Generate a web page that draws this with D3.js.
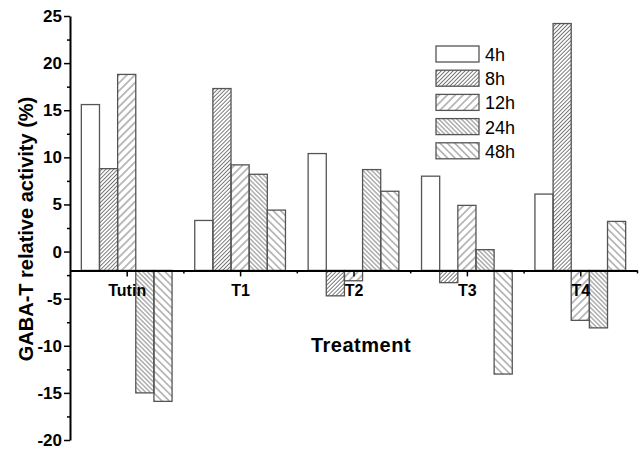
<!DOCTYPE html>
<html>
<head>
<meta charset="utf-8">
<script src="https://cdn.jsdelivr.net/npm/d3@7"></script>
<style>
    body { margin: 0; background: #fff; }
    svg { display: block; font-family: "Liberation Sans", Arial, sans-serif; }
</style>
</head>
<body>
<script>
// Chart data
var treatments = ["Tutin", "T1", "T2", "T3", "T4"];
var times = ["4h", "8h", "12h", "24h", "48h"];
var v4h = [15.6, 3.3, 10.4, 8.0, 6.1];
var v8h = [8.8, 17.3, -4.7, -3.3, 24.2];
var v12h = [18.8, 9.2, -3.1, 4.9, -7.3];
var v24h = [-15.0, 8.2, 8.7, 0.2, -8.1];
var v48h = [-15.9, 4.4, 6.4, -13.0, 3.2];
var yTicks = [-20, -15, -10, -5, 0, 5, 10, 15, 20, 25];

var series = [v4h, v8h, v12h, v24h, v48h];

var width = 641,
    height = 449;

var svg = d3.select("body")
    .append("svg")
    .attr("width", width)
    .attr("height", height);

// Hatch patterns: [angle, spacing]
var hatch = [null, [45, 2.8], [45, 5.6], [-45, 3.2], [-45, 5.2]];
var defs = svg.append("defs");
hatch.forEach(function(h, i) {
    if (!h) return;
    var p = defs.append("pattern")
        .attr("id", "hatch" + i)
        .attr("patternUnits", "userSpaceOnUse")
        .attr("width", h[1])
        .attr("height", 10)
        .attr("patternTransform", "rotate(" + h[0] + ")");
    p.append("line")
        .attr("x1", h[1] / 2).attr("x2", h[1] / 2)
        .attr("y1", 0).attr("y2", 10)
        .attr("stroke", "#555")
        .attr("stroke-width", 0.8);
});
function fillFor(i) {
    return i === 0 ? "#fff" : "url(#hatch" + i + ")";
}

// Scales
var x = d3.scaleLinear().domain([0.5, 5.5]).range([70, 637]);
var y = d3.scaleLinear().domain([-20, 25]).range([440, 16]);
var base = -2; // bars start at the x axis position
var groupW = 0.8, barW = groupW / times.length;

// Bars
var bars = svg.append("g");
series.forEach(function(vals, s) {
    bars.selectAll(".bar" + s)
        .data(vals)
        .enter()
        .append("rect")
        .attr("class", "bar" + s)
        .attr("x", function(d, i) { return x(i + 1 - groupW / 2 + s * barW); })
        .attr("width", x(barW) - x(0))
        .attr("y", function(d) { return y(Math.max(d, base)); })
        .attr("height", function(d) { return Math.abs(y(d) - y(base)); })
        .attr("fill", fillFor(s))
        .attr("stroke", "#555")
        .attr("stroke-width", 1.3);
});

// Y axis
var yAxis = svg.append("g")
    .attr("transform", "translate(70,0)")
    .call(d3.axisLeft(y).tickValues(yTicks).tickSize(6).tickSizeOuter(0).tickPadding(2)
        .tickFormat(function(d) { return String(d); }));
svg.append("g")
    .attr("transform", "translate(70,0)")
    .call(d3.axisLeft(y).tickValues(d3.range(-17.5, 25, 5)).tickSize(3).tickSizeOuter(0).tickFormat(""))
    .select(".domain").remove();

// X axis at y = -2
svg.append("g")
    .attr("transform", "translate(0," + y(base) + ")")
    .call(d3.axisBottom(x).tickValues([1, 2, 3, 4, 5])
        .tickFormat(function(d) { return treatments[d - 1]; })
        .tickSize(6).tickSizeOuter(0).tickPadding(8));
svg.append("g")
    .attr("transform", "translate(0," + y(base) + ")")
    .call(d3.axisBottom(x).tickValues([1.5, 2.5, 3.5, 4.5, 5.5]).tickSize(3).tickSizeOuter(0).tickFormat(""))
    .select(".domain").remove();

svg.selectAll(".domain").attr("stroke", "#000").attr("stroke-width", 2);
svg.selectAll(".tick line").attr("stroke", "#000").attr("stroke-width", 1.5);
svg.selectAll(".tick text")
    .attr("fill", "#000")
    .style("font-family", "'Liberation Sans', Arial, sans-serif")
    .style("font-size", "16px")
    .style("font-weight", "bold");
yAxis.selectAll(".tick text").style("font-size", "17px");

// Axis titles
svg.append("text")
    .attr("transform", "translate(33,229) rotate(-90)")
    .attr("text-anchor", "middle")
    .style("font-size", "20px")
    .style("font-weight", "bold")
    .text("GABA-T relative activity (%)");

svg.append("text")
    .attr("x", 361)
    .attr("y", 352)
    .attr("text-anchor", "middle")
    .style("font-size", "20px")
    .style("font-weight", "bold")
    .style("letter-spacing", "0.5px")
    .text("Treatment");

// Legend
var legend = svg.append("g").attr("transform", "translate(436,46)");
var item = legend.selectAll(".item")
    .data(times)
    .enter()
    .append("g")
    .attr("transform", function(d, i) { return "translate(0," + i * 24.2 + ")"; });
item.append("rect")
    .attr("width", 43)
    .attr("height", 16)
    .attr("fill", function(d, i) { return fillFor(i); })
    .attr("stroke", "#555")
    .attr("stroke-width", 1.3);
item.append("text")
    .attr("x", 49)
    .attr("y", 15)
    .style("font-size", "18px")
    .text(function(d) { return d; });
</script>
</body>
</html>
